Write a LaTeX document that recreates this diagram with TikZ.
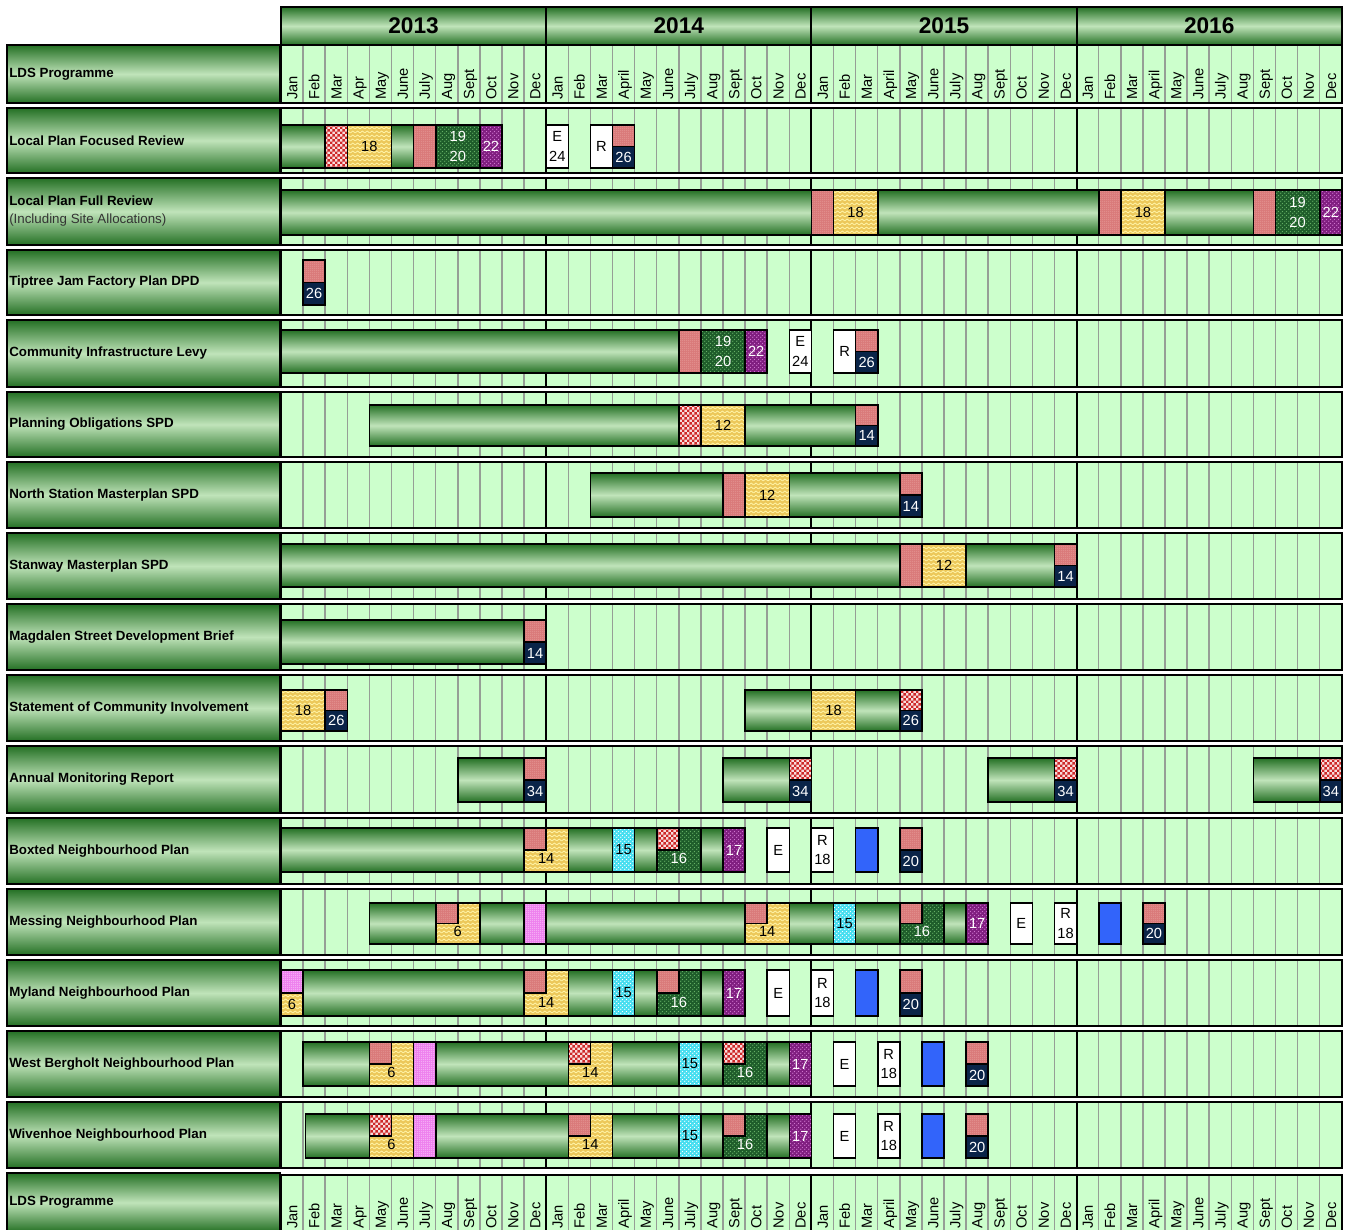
\documentclass[tikz,border=0pt]{standalone}
\usepackage{fontspec}
\setmainfont{Liberation Sans}
\usetikzlibrary{patterns}

\definecolor{gdark}{RGB}{36,112,36}
\definecolor{glight}{RGB}{192,228,186}
\definecolor{cellbg}{RGB}{204,255,204}
\definecolor{gridgrey}{RGB}{150,158,150}
\definecolor{salm}{RGB}{218,122,122}
\definecolor{salmlite}{RGB}{240,176,172}
\definecolor{chkbg}{RGB}{248,220,220}
\definecolor{chkred}{RGB}{205,40,40}
\definecolor{ybase}{RGB}{236,200,90}
\definecolor{ylite}{RGB}{255,244,168}
\definecolor{dgbase}{RGB}{30,92,42}
\definecolor{dglite}{RGB}{100,175,100}
\definecolor{pbase}{RGB}{128,30,128}
\definecolor{plite}{RGB}{205,115,205}
\definecolor{cbase}{RGB}{70,222,240}
\definecolor{pkbase}{RGB}{238,128,238}
\definecolor{navyc}{RGB}{10,36,72}
\definecolor{blu}{RGB}{50,100,250}

\pgfdeclarepatternformonly{zigzag}{\pgfqpoint{-1pt}{-1pt}}{\pgfqpoint{4.6pt}{4pt}}{\pgfqpoint{3.6pt}{3pt}}{
  \pgfsetlinewidth{0.6pt}
  \pgfpathmoveto{\pgfqpoint{0pt}{0.8pt}}
  \pgfpathlineto{\pgfqpoint{1.8pt}{2.2pt}}
  \pgfpathlineto{\pgfqpoint{3.6pt}{0.8pt}}
  \pgfusepath{stroke}
}
\pgfdeclarepatternformonly{bigdots}{\pgfpointorigin}{\pgfqpoint{3pt}{3pt}}{\pgfqpoint{3pt}{3pt}}{
  \pgfpathcircle{\pgfqpoint{0.75pt}{0.75pt}}{0.6pt}
  \pgfpathcircle{\pgfqpoint{2.25pt}{2.25pt}}{0.6pt}
  \pgfusepath{fill}
}
\pgfdeclarepatternformonly{finedots}{\pgfpointorigin}{\pgfqpoint{1.6pt}{1.6pt}}{\pgfqpoint{1.6pt}{1.6pt}}{
  \pgfpathcircle{\pgfqpoint{0.8pt}{0.8pt}}{0.35pt}
  \pgfusepath{fill}
}
\pgfdeclarepatternformonly{fchecks}{\pgfpointorigin}{\pgfqpoint{4pt}{4pt}}{\pgfqpoint{4pt}{4pt}}{
  \pgfpathrectangle{\pgfpointorigin}{\pgfqpoint{2pt}{2pt}}
  \pgfpathrectangle{\pgfqpoint{2pt}{2pt}}{\pgfqpoint{2pt}{2pt}}
  \pgfusepath{fill}
}

\tikzset{
  lbl/.style={draw=black, line width=1.6pt, top color=gdark, bottom color=gdark, middle color=glight},
  lbltxt/.style={anchor=west, inner sep=0pt, align=left, font=\fontsize{10}{13.5}\selectfont\bfseries},
  yeartxt/.style={inner sep=0pt, font=\fontsize{17}{18}\selectfont\bfseries},
  mon/.style={rotate=90, anchor=west, inner sep=0pt, text height=8pt, text depth=0pt, font=\fontsize{11}{12}\selectfont},
  mline/.style={gridgrey, line width=1.1pt},
  yline/.style={black, line width=1.4pt},
  frame/.style={black, line width=1.5pt},
  pat/.style={draw=black, line width=1.2pt},
  bar/.style={pat, top color=gdark, bottom color=gdark, middle color=glight},
  wave/.style={pat, preaction={fill=ybase}, pattern=zigzag, pattern color=ylite},
  salmbox/.style={pat, preaction={fill=salm}, pattern=finedots, pattern color=salmlite},
  checks/.style={pat, preaction={fill=chkbg}, pattern=fchecks, pattern color=chkred},
  dgreen/.style={pat, preaction={fill=dgbase}, pattern=bigdots, pattern color=dglite},
  purp/.style={pat, preaction={fill=pbase}, pattern=bigdots, pattern color=plite},
  cyanbox/.style={pat, preaction={fill=cbase}, pattern=bigdots, pattern color=white},
  pinkd/.style={pat, preaction={fill=pkbase}, pattern=finedots, pattern color=white},
  navybox/.style={pat, fill=navyc},
  wbox/.style={pat, fill=white},
  bluebox/.style={pat, fill=blu},
  num/.style={inner sep=0pt, align=center, font=\fontsize{11}{14.5}\selectfont}
}

\newcommand{\lblbox}[4]{%
  \draw[lbl] (7,#2) rectangle (280,#3);
  \node[lbltxt] (#1) at (9,{(#2+#3)/2}) {#4};}
\newcommand{\chartrow}[2]{%
  \fill[cellbg] (0,#1) rectangle (48,#2);
  \foreach \m in {1,...,47} {\draw[mline] (\m,#1) -- (\m,#2);}
  \foreach \m in {12,24,36} {\draw[yline] (\m,#1) -- (\m,#2);}
  \draw[frame] (0,#1) rectangle (48,#2);}
\newcommand{\monthrow}[3]{%
  \chartrow{#1}{#2}
  \foreach \mn [count=\i from 0] in {Jan,Feb,Mar,Apr,May,June,July,Aug,Sept,Oct,Nov,Dec,
      Jan,Feb,Mar,April,May,June,July,Aug,Sept,Oct,Nov,Dec,
      Jan,Feb,Mar,April,May,June,July,Aug,Sept,Oct,Nov,Dec,
      Jan,Feb,Mar,April,May,June,July,Aug,Sept,Oct,Nov,Dec}
    {\node[mon] (#3\i) at (\i+0.5,#2-3) {\mn};}}
\newcommand{\seg}[3]{\draw[#1] (#2,\bt) rectangle (#3,\bb);}
\newcommand{\segt}[5]{%
  \draw[#1] (#2,\bt) rectangle (#3,\bb);
  \node[num,text=#4] (\rid-#2) at ({(#2+#3)/2},{(\bt+\bb)/2}) {#5};}
\newcommand{\stk}[5]{%
  \draw[#1] (#3,\bt) rectangle (#3+1,{(\bt+\bb)/2});
  \draw[#2] (#3,{(\bt+\bb)/2}) rectangle (#3+1,\bb);
  \node[num,text=#4] (\rid-#3) at (#3+0.5,{(\bt+3*\bb)/4}) {#5};}
\newcommand{\lbx}[5]{%
  \draw[#1] (#3,\bt) rectangle (#3+2,\bb);
  \draw[#2] (#3,\bt) rectangle (#3+1,{(\bt+\bb)/2});
  \node[num,text=#4] (\rid-#3) at (#3+1,{(\bt+2.3*\bb)/3.3}) {#5};}

\begin{document}
\begin{tikzpicture}[x=0.75pt, y=-0.75pt]
\useasboundingbox (0,0) rectangle (1353,1230);

\lblbox{lhead}{45}{103}{LDS Programme}
\lblbox{lpfr}{108}{173}{Local Plan Focused Review}
\lblbox{lpful}{178}{245}{Local Plan Full Review\\{\mdseries\color{black!80}(Including Site Allocations)}}
\lblbox{tiptree}{250}{315}{Tiptree Jam Factory Plan DPD}
\lblbox{cil}{320}{387}{Community Infrastructure Levy}
\lblbox{pos}{392}{457}{Planning Obligations SPD}
\lblbox{nsm}{462}{528}{North Station Masterplan SPD}
\lblbox{stanway}{533}{599}{Stanway Masterplan SPD}
\lblbox{magdalen}{604}{670}{Magdalen Street Development Brief}
\lblbox{sci}{675}{741}{Statement of Community Involvement}
\lblbox{amr}{746}{813}{Annual Monitoring Report}
\lblbox{boxted}{818}{884}{Boxted Neighbourhood Plan}
\lblbox{messing}{889}{955}{Messing Neighbourhood Plan}
\lblbox{myland}{960}{1026}{Myland Neighbourhood Plan}
\lblbox{wberg}{1031}{1097}{West Bergholt Neighbourhood Plan}
\lblbox{wiven}{1102}{1168}{Wivenhoe Neighbourhood Plan}
\lblbox{lfoot}{1173}{1232}{LDS Programme}

\begin{scope}[shift={(281,0)}, x=16.575pt]
\foreach \yr [count=\i from 0] in {2013,2014,2015,2016} {
  \draw[lbl] (12*\i,7) rectangle (12*\i+12,45);
  \node[yeartxt] (y\yr) at (12*\i+6,26) {\yr};
}
\monthrow{45}{103}{hm}
\chartrow{108}{173}
\chartrow{178}{245}
\chartrow{250}{315}
\chartrow{320}{387}
\chartrow{392}{457}
\chartrow{462}{528}
\chartrow{533}{599}
\chartrow{604}{670}
\chartrow{675}{741}
\chartrow{746}{813}
\chartrow{818}{884}
\chartrow{889}{955}
\chartrow{960}{1026}
\chartrow{1031}{1097}
\chartrow{1102}{1168}
\monthrow{1175}{1232}{fm}

\def\rid{lpfr}\def\bt{125}\def\bb{168}
\seg{bar}{0}{2}
\seg{checks}{2}{3}
\segt{wave}{3}{5}{black}{18}
\seg{bar}{5}{6}
\seg{salmbox}{6}{7}
\segt{dgreen}{7}{9}{white}{19\\20}
\segt{purp}{9}{10}{white}{22}
\segt{wbox}{12}{13}{black}{E\\24}
\segt{wbox}{14}{15}{black}{R}
\stk{salmbox}{navybox}{15}{white}{26}

\def\rid{lpful}\def\bt{190}\def\bb{235}
\seg{bar}{0}{24}
\seg{salmbox}{24}{25}
\segt{wave}{25}{27}{black}{18}
\seg{bar}{27}{37}
\seg{salmbox}{37}{38}
\segt{wave}{38}{40}{black}{18}
\seg{bar}{40}{44}
\seg{salmbox}{44}{45}
\segt{dgreen}{45}{47}{white}{19\\20}
\segt{purp}{47}{48}{white}{22}

\def\rid{tiptree}\def\bt{260}\def\bb{305}
\stk{salmbox}{navybox}{1}{white}{26}

\def\rid{cil}\def\bt{330}\def\bb{373}
\seg{bar}{0}{18}
\seg{salmbox}{18}{19}
\segt{dgreen}{19}{21}{white}{19\\20}
\segt{purp}{21}{22}{white}{22}
\segt{wbox}{23}{24}{black}{E\\24}
\segt{wbox}{25}{26}{black}{R}
\stk{salmbox}{navybox}{26}{white}{26}

\def\rid{pos}\def\bt{405}\def\bb{446}
\seg{bar}{4}{18}
\seg{checks}{18}{19}
\segt{wave}{19}{21}{black}{12}
\seg{bar}{21}{26}
\stk{salmbox}{navybox}{26}{white}{14}

\def\rid{nsm}\def\bt{473}\def\bb{517}
\seg{bar}{14}{20}
\seg{salmbox}{20}{21}
\segt{wave}{21}{23}{black}{12}
\seg{bar}{23}{28}
\stk{salmbox}{navybox}{28}{white}{14}

\def\rid{stanway}\def\bt{544}\def\bb{587}
\seg{bar}{0}{28}
\seg{salmbox}{28}{29}
\segt{wave}{29}{31}{black}{12}
\seg{bar}{31}{35}
\stk{salmbox}{navybox}{35}{white}{14}

\def\rid{magdalen}\def\bt{620}\def\bb{664}
\seg{bar}{0}{11}
\stk{salmbox}{navybox}{11}{white}{14}

\def\rid{sci}\def\bt{690}\def\bb{731}
\segt{wave}{0}{2}{black}{18}
\stk{salmbox}{navybox}{2}{white}{26}
\seg{bar}{21}{24}
\segt{wave}{24}{26}{black}{18}
\seg{bar}{26}{28}
\stk{checks}{navybox}{28}{white}{26}

\def\rid{amr}\def\bt{758}\def\bb{802}
\seg{bar}{8}{11}
\stk{salmbox}{navybox}{11}{white}{34}
\seg{bar}{20}{23}
\stk{checks}{navybox}{23}{white}{34}
\seg{bar}{32}{35}
\stk{checks}{navybox}{35}{white}{34}
\seg{bar}{44}{47}
\stk{checks}{navybox}{47}{white}{34}

\def\rid{boxted}\def\bt{828}\def\bb{872}
\seg{bar}{0}{11}
\lbx{wave}{salmbox}{11}{black}{14}
\seg{bar}{13}{15}
\segt{cyanbox}{15}{16}{black}{15}
\seg{bar}{16}{17}
\lbx{dgreen}{checks}{17}{white}{16}
\seg{bar}{19}{20}
\segt{purp}{20}{21}{white}{17}
\segt{wbox}{22}{23}{black}{E}
\segt{wbox}{24}{25}{black}{R\\18}
\seg{bluebox}{26}{27}
\stk{salmbox}{navybox}{28}{white}{20}

\def\rid{messing}\def\bt{903}\def\bb{944}
\seg{bar}{4}{7}
\lbx{wave}{salmbox}{7}{black}{6}
\seg{bar}{9}{11}
\seg{pinkd}{11}{12}
\seg{bar}{12}{21}
\lbx{wave}{salmbox}{21}{black}{14}
\seg{bar}{23}{25}
\segt{cyanbox}{25}{26}{black}{15}
\seg{bar}{26}{28}
\lbx{dgreen}{salmbox}{28}{white}{16}
\seg{bar}{30}{31}
\segt{purp}{31}{32}{white}{17}
\segt{wbox}{33}{34}{black}{E}
\segt{wbox}{35}{36}{black}{R\\18}
\seg{bluebox}{37}{38}
\stk{salmbox}{navybox}{39}{white}{20}

\def\rid{myland}\def\bt{970}\def\bb{1016}
\stk{pinkd}{wave}{0}{black}{6}
\seg{bar}{1}{11}
\lbx{wave}{salmbox}{11}{black}{14}
\seg{bar}{13}{15}
\segt{cyanbox}{15}{16}{black}{15}
\seg{bar}{16}{17}
\lbx{dgreen}{salmbox}{17}{white}{16}
\seg{bar}{19}{20}
\segt{purp}{20}{21}{white}{17}
\segt{wbox}{22}{23}{black}{E}
\segt{wbox}{24}{25}{black}{R\\18}
\seg{bluebox}{26}{27}
\stk{salmbox}{navybox}{28}{white}{20}

\def\rid{wberg}\def\bt{1042}\def\bb{1086}
\seg{bar}{1}{4}
\lbx{wave}{salmbox}{4}{black}{6}
\seg{pinkd}{6}{7}
\seg{bar}{7}{13}
\lbx{wave}{checks}{13}{black}{14}
\seg{bar}{15}{18}
\segt{cyanbox}{18}{19}{black}{15}
\seg{bar}{19}{20}
\lbx{dgreen}{checks}{20}{white}{16}
\seg{bar}{22}{23}
\segt{purp}{23}{24}{white}{17}
\segt{wbox}{25}{26}{black}{E}
\segt{wbox}{27}{28}{black}{R\\18}
\seg{bluebox}{29}{30}
\stk{salmbox}{navybox}{31}{white}{20}

\def\rid{wiven}\def\bt{1114}\def\bb{1158}
\seg{bar}{1.1}{4}
\lbx{wave}{checks}{4}{black}{6}
\seg{pinkd}{6}{7}
\seg{bar}{7}{13}
\lbx{wave}{salmbox}{13}{black}{14}
\seg{bar}{15}{18}
\segt{cyanbox}{18}{19}{black}{15}
\seg{bar}{19}{20}
\lbx{dgreen}{salmbox}{20}{white}{16}
\seg{bar}{22}{23}
\segt{purp}{23}{24}{white}{17}
\segt{wbox}{25}{26}{black}{E}
\segt{wbox}{27}{28}{black}{R\\18}
\seg{bluebox}{29}{30}
\stk{salmbox}{navybox}{31}{white}{20}
\end{scope}
\end{tikzpicture}
\end{document}
